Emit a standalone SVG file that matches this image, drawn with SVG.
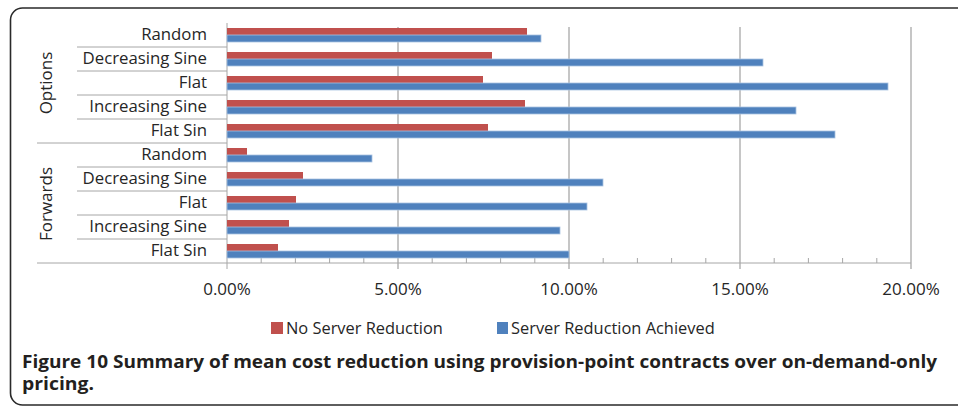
<svg xmlns="http://www.w3.org/2000/svg" width="958" height="407" viewBox="0 0 958 407">
<style>
.frame{fill:#fff;stroke:#2a2a2a;stroke-width:1.6}
.grid{stroke:#b3b3b3;stroke-width:1.5}
.sep{stroke:#a6a6a6;stroke-width:1}
.tick{stroke:#a6a6a6;stroke-width:1}
.red{fill:#C0504D}
.blue{fill:#4F81BD;stroke:#a9c2e2;stroke-width:0.8}
.cat{font-family:"Open Sans","Liberation Sans",sans-serif;font-size:16.8px;fill:#262626;text-anchor:end}
.grp{font-family:"Open Sans","Liberation Sans",sans-serif;font-size:17px;fill:#262626;text-anchor:middle}
.ax{font-family:"Open Sans","Liberation Sans",sans-serif;font-size:17px;fill:#262626;text-anchor:middle}
.leg{font-family:"Open Sans","Liberation Sans",sans-serif;font-size:16.4px;fill:#262626}
.cap{font-family:"Open Sans","Liberation Sans",sans-serif;font-size:17.5px;font-weight:bold;fill:#231f20}
</style>
<rect width="958" height="407" fill="#fff"/>
<rect class="frame" x="10.5" y="8" width="990" height="397" rx="12"/>

<g id="gridlines">
<line class="grid" x1="398" y1="27" x2="398" y2="269"/>
<line class="grid" x1="569" y1="27" x2="569" y2="269"/>
<line class="grid" x1="740" y1="27" x2="740" y2="269"/>
<line class="grid" x1="911" y1="27" x2="911" y2="269"/>
</g>

<g id="axes">
<line class="sep" x1="227" y1="23" x2="227" y2="269"/>
<line class="sep" x1="37" y1="263" x2="911" y2="263"/>
<line class="sep" x1="37" y1="143" x2="227" y2="143"/>
<line class="sep" x1="77" y1="47" x2="227" y2="47"/>
<line class="sep" x1="77" y1="71" x2="227" y2="71"/>
<line class="sep" x1="77" y1="95" x2="227" y2="95"/>
<line class="sep" x1="77" y1="119" x2="227" y2="119"/>
<line class="sep" x1="77" y1="167" x2="227" y2="167"/>
<line class="sep" x1="77" y1="191" x2="227" y2="191"/>
<line class="sep" x1="77" y1="215" x2="227" y2="215"/>
<line class="sep" x1="77" y1="239" x2="227" y2="239"/>
<g class="tick">
<line x1="261.2" y1="258" x2="261.2" y2="263"/>
<line x1="295.4" y1="258" x2="295.4" y2="263"/>
<line x1="329.6" y1="258" x2="329.6" y2="263"/>
<line x1="363.8" y1="258" x2="363.8" y2="263"/>
<line x1="432.2" y1="258" x2="432.2" y2="263"/>
<line x1="466.4" y1="258" x2="466.4" y2="263"/>
<line x1="500.6" y1="258" x2="500.6" y2="263"/>
<line x1="534.8" y1="258" x2="534.8" y2="263"/>
<line x1="603.2" y1="258" x2="603.2" y2="263"/>
<line x1="637.4" y1="258" x2="637.4" y2="263"/>
<line x1="671.6" y1="258" x2="671.6" y2="263"/>
<line x1="705.8" y1="258" x2="705.8" y2="263"/>
<line x1="774.2" y1="258" x2="774.2" y2="263"/>
<line x1="808.4" y1="258" x2="808.4" y2="263"/>
<line x1="842.6" y1="258" x2="842.6" y2="263"/>
<line x1="876.8" y1="258" x2="876.8" y2="263"/>
</g>
</g>

<g id="bars">
<rect class="red" x="227" y="28" width="300" height="7"/>
<rect class="blue" x="227" y="35" width="314" height="7"/>
<rect class="red" x="227" y="52" width="265" height="7"/>
<rect class="blue" x="227" y="59" width="536" height="7"/>
<rect class="red" x="227" y="76" width="256" height="7"/>
<rect class="blue" x="227" y="83" width="661" height="7"/>
<rect class="red" x="227" y="100" width="298" height="7"/>
<rect class="blue" x="227" y="107" width="569" height="7"/>
<rect class="red" x="227" y="124" width="261" height="7"/>
<rect class="blue" x="227" y="131" width="608" height="7"/>
<rect class="red" x="227" y="148" width="20" height="7"/>
<rect class="blue" x="227" y="155" width="145" height="7"/>
<rect class="red" x="227" y="172" width="76" height="7"/>
<rect class="blue" x="227" y="179" width="376" height="7"/>
<rect class="red" x="227" y="196" width="69" height="7"/>
<rect class="blue" x="227" y="203" width="360" height="7"/>
<rect class="red" x="227" y="220" width="62" height="7"/>
<rect class="blue" x="227" y="227" width="333" height="7"/>
<rect class="red" x="227" y="244" width="51" height="7"/>
<rect class="blue" x="227" y="251" width="342" height="7"/>
</g>

<g id="category-labels">
<text class="cat" x="207" y="40">Random</text>
<text class="cat" x="207" y="64">Decreasing Sine</text>
<text class="cat" x="207" y="88">Flat</text>
<text class="cat" x="207" y="112">Increasing Sine</text>
<text class="cat" x="207" y="136">Flat Sin</text>
<text class="cat" x="207" y="160">Random</text>
<text class="cat" x="207" y="184">Decreasing Sine</text>
<text class="cat" x="207" y="208">Flat</text>
<text class="cat" x="207" y="232">Increasing Sine</text>
<text class="cat" x="207" y="256">Flat Sin</text>
</g>

<g id="group-labels">
<text class="grp" transform="translate(52,83) rotate(-90)">Options</text>
<text class="grp" transform="translate(52,204) rotate(-90)">Forwards</text>
</g>

<g id="axis-labels">
<text class="ax" x="227" y="295">0.00%</text>
<text class="ax" x="398" y="295">5.00%</text>
<text class="ax" x="569" y="295">10.00%</text>
<text class="ax" x="740" y="295">15.00%</text>
<text class="ax" x="911" y="295">20.00%</text>
</g>

<g id="legend">
<rect class="red" x="271" y="322" width="12" height="12"/>
<text class="leg" x="286" y="334">No Server Reduction</text>
<rect x="497" y="322" width="11" height="12" fill="#4F81BD"/>
<text class="leg" x="511" y="334">Server Reduction Achieved</text>
</g>

<g id="caption">
<text class="cap" x="22" y="368" textLength="915" lengthAdjust="spacingAndGlyphs">Figure 10 Summary of mean cost reduction using provision-point contracts over on-demand-only</text>
<text class="cap" x="22" y="390" textLength="72" lengthAdjust="spacingAndGlyphs">pricing.</text>
</g>
</svg>
